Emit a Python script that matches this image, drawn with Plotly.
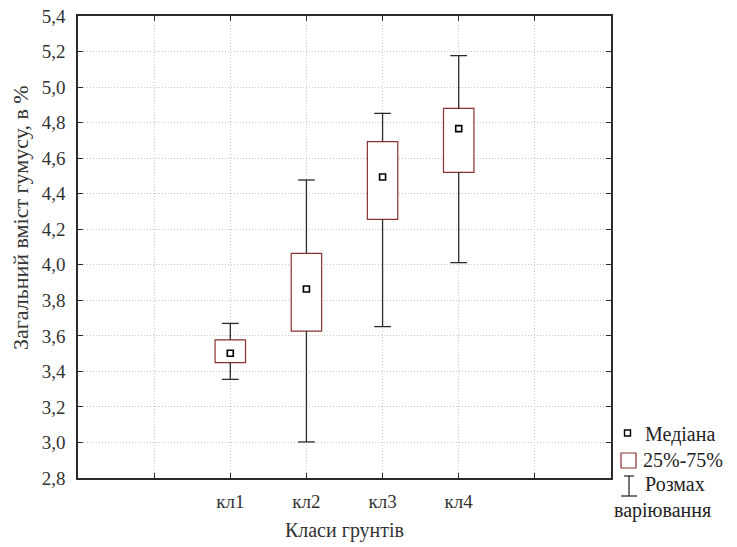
import plotly.graph_objects as go

categories = ["кл1", "кл2", "кл3", "кл4"]
whisker_min = [3.355, 3.003, 3.652, 4.012]
q1 = [3.449, 3.627, 4.256, 4.520]
median = [3.502, 3.864, 4.494, 4.766]
q3 = [3.577, 4.064, 4.693, 4.880]
whisker_max = [3.670, 4.477, 4.852, 5.177]

y_ticks = [2.8, 3.0, 3.2, 3.4, 3.6, 3.8, 4.0, 4.2, 4.4, 4.6, 4.8, 5.0, 5.2, 5.4]

xpos = [i + 2 for i in range(len(categories))]
box_w = 0.4
cap_half = 0.11
box_color = "#8a3030"
ink = "#2b2b2b"
txt = "#333333"
font_family = "Liberation Serif, Times New Roman, serif"

fig = go.Figure()

# boxes (25%-75%)
fig.add_trace(go.Bar(
    x=xpos, base=q1, y=[b - a for a, b in zip(q1, q3)], width=box_w,
    marker=dict(color="white", line=dict(color=box_color, width=1.2)),
    showlegend=False, hoverinfo="skip"))

# whiskers with caps
wx, wy = [], []
for x, lo, a, b, hi in zip(xpos, whisker_min, q1, q3, whisker_max):
    wx += [x, x, None, x, x, None, x - cap_half, x + cap_half, None, x - cap_half, x + cap_half, None]
    wy += [b, hi, None, a, lo, None, hi, hi, None, lo, lo, None]
fig.add_trace(go.Scatter(x=wx, y=wy, mode="lines", line=dict(color=ink, width=1.3),
                         showlegend=False, hoverinfo="skip"))

# medians
fig.add_trace(go.Scatter(
    x=xpos, y=median, mode="markers",
    marker=dict(symbol="square", size=6, color="white", line=dict(color="black", width=1.6)),
    showlegend=False))

axis_common = dict(
    showline=True, linecolor=ink, linewidth=1.5, mirror="ticks",
    ticks="inside", ticklen=5, tickcolor=ink, tickwidth=1.2,
    showgrid=True, gridcolor="#c4c4c4", griddash="1px,2px", gridwidth=1,
    zeroline=False, automargin=False,
    tickfont=dict(family=font_family, size=19, color=txt),
)

fig.update_xaxes(
    range=[0, 7], tickmode="array", tickvals=[1] + xpos + [6],
    ticktext=[""] + categories + [""], ticklabelstandoff=5,
    title=dict(text="Класи грунтів", font=dict(family=font_family, size=20, color=txt), standoff=12),
    **axis_common)
fig.update_yaxes(
    range=[2.8, 5.4], tickmode="array", tickvals=y_ticks, tickformat=".1f",
    ticklabelstandoff=7,
    **axis_common)

W, H = 737, 547
L, R, T, B = 78, 126, 16, 69
pw, ph = W - L - R, H - T - B

def px(x):
    return (x - L) / pw

def py(y):
    return (H - B - y) / ph

# y-axis title (placed as in the reference, slightly above the plot centre)
fig.add_annotation(xref="paper", yref="paper", x=px(21), y=py(218), text="Загальний вміст гумусу, в %",
                   textangle=-90, showarrow=False, xanchor="center", yanchor="middle",
                   font=dict(family=font_family, size=22, color=txt))

# legend drawn as annotations + small shapes
lf = dict(family=font_family, size=20, color="#222222")
for text, x, y in [("Медіана", 643, 434), ("25%-75%", 641, 460), ("Розмах", 643, 484), ("варіювання", 612, 510)]:
    fig.add_annotation(xref="paper", yref="paper", x=px(x), y=py(y), text=text, showarrow=False,
                       xanchor="left", yanchor="middle", font=lf)

# median symbol
fig.add_shape(type="rect", xref="paper", yref="paper", x0=px(624.5), x1=px(630.5), y0=py(436), y1=py(430),
              line=dict(color="black", width=1.4), fillcolor="white")
# box symbol
fig.add_shape(type="rect", xref="paper", yref="paper", x0=px(621), x1=px(636), y0=py(468), y1=py(453),
              line=dict(color=box_color, width=1.2), fillcolor="white")
# whisker symbol
for x0, y0, x1, y1 in [(624, 476, 634, 476), (629, 476, 629, 496), (621, 496, 637, 496)]:
    fig.add_shape(type="line", xref="paper", yref="paper", x0=px(x0), x1=px(x1), y0=py(y0), y1=py(y1),
                  line=dict(color=ink, width=1.3))

fig.update_layout(
    width=W, height=H, margin=dict(l=L, r=R, t=T, b=B, autoexpand=False),
    paper_bgcolor="white", plot_bgcolor="white",
    separators=", ", showlegend=False, barmode="overlay",
)

fig.write_html("out.html", config={"displayModeBar": False},
               post_script="document.body.style.margin='0';document.body.style.padding='0';")
